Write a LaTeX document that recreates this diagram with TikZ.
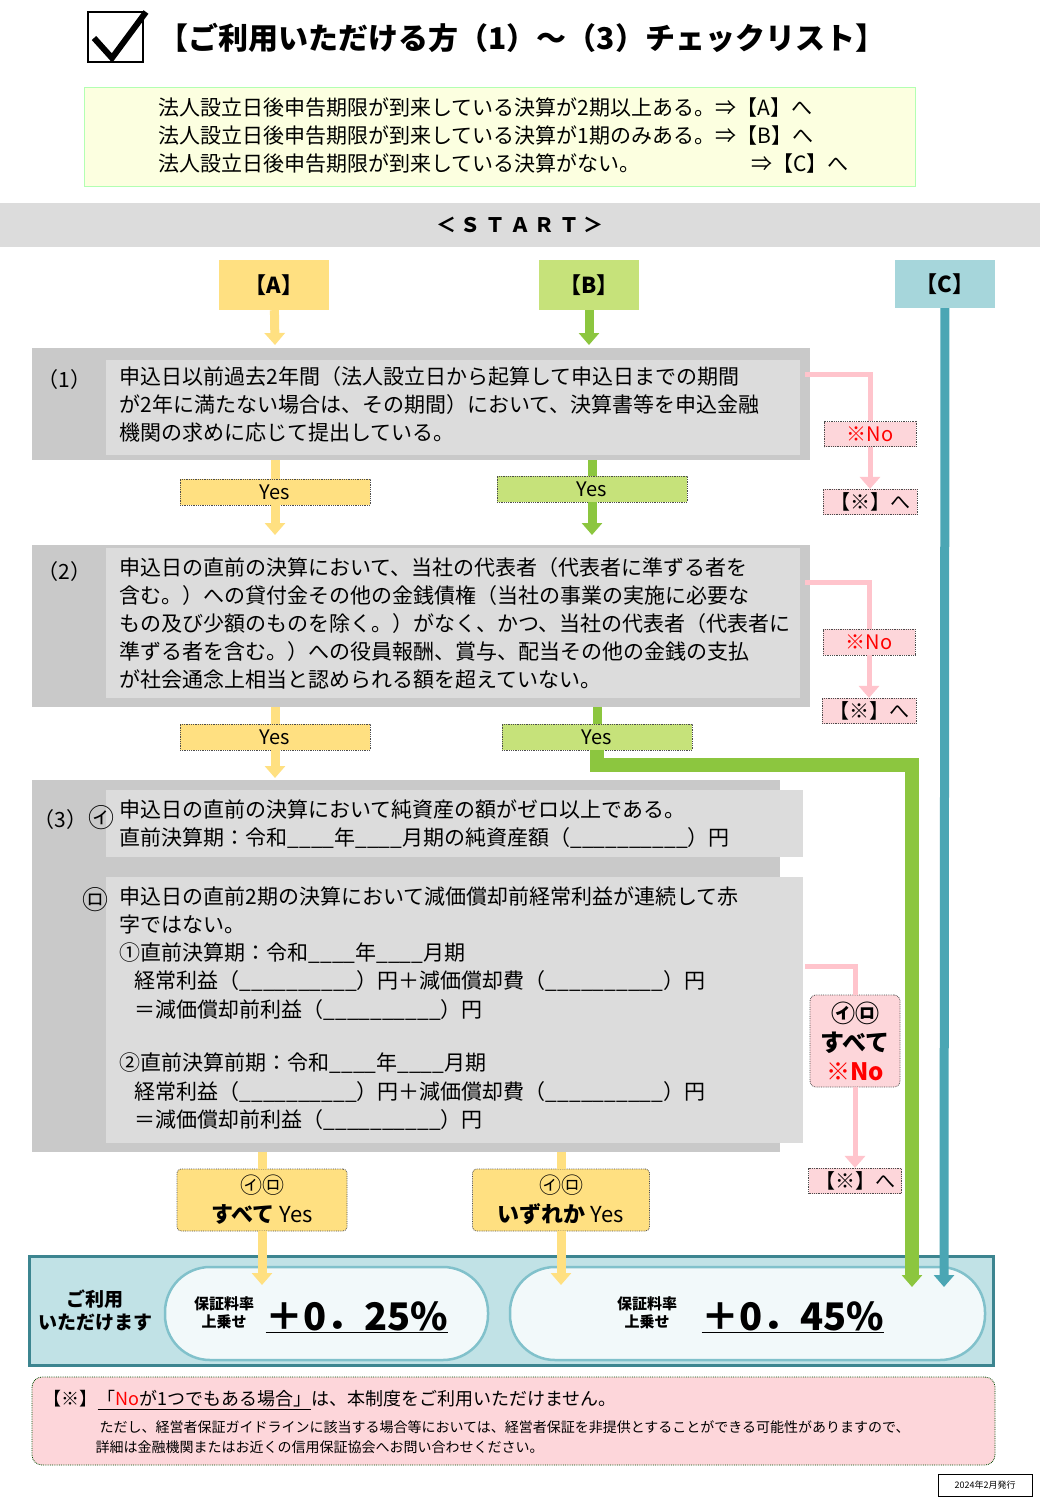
\documentclass[tikz,border=0pt]{standalone}
\usepackage{fontspec}
\setmainfont{Noto Sans CJK JP}
\usetikzlibrary{arrows.meta,calc}
\definecolor{ayel}{HTML}{FFE081}
\definecolor{bgrn}{HTML}{C6E27A}
\definecolor{gline}{HTML}{8CC63F}
\definecolor{cteal}{HTML}{A6D6DB}
\definecolor{tline}{HTML}{4BA6B4}
\definecolor{pnk}{HTML}{FFC4CC}
\definecolor{pnkbg}{HTML}{FDD6DA}
\definecolor{gout}{HTML}{C9C9C9}
\definecolor{gin}{HTML}{DCDCDC}
\tikzset{
  body/.style={anchor=west,font=\fontsize{21}{22}\selectfont},
  yesbox/.style={draw=black!70,densely dotted,thick,font=\fontsize{20}{21}\selectfont},
  nobox/.style={draw=black!70,densely dotted,thick,fill=pnkbg,font=\fontsize{20}{21}\selectfont},
  flow/.style={line width=9pt,-{Triangle[width=20pt,length=12pt]}},
}
\begin{document}
\begin{tikzpicture}[x=1pt,y=-1pt]
	\useasboundingbox (0,0) rectangle (1040,1499);
	\fill[white] (0,0) rectangle (1040,1499);

	% title
	\draw[line width=2.5pt] (88,12) rectangle (143,62);
	\draw[line width=6pt] (94,38) -- (112,58) -- (146,12);
	\node[anchor=west,font=\fontsize{30}{32}\selectfont\bfseries] (title) at (155,38) {【ご利用いただける方（1）～（3）チェックリスト】};

	% intro box
	\fill[green!10!yellow!12,draw=green!30] (84,87) rectangle (915,186);
	\node[body,anchor=west] (la) at (155,108) {法人設立日後申告期限が到来している決算が2期以上ある。⇒【A】へ};
	\node[body,anchor=west] (lb) at (155,136) {法人設立日後申告期限が到来している決算が1期のみある。⇒【B】へ};
	\node[body,anchor=west] (lc) at (155,164) {法人設立日後申告期限が到来している決算がない。};
	\node[body,anchor=west] (lc2) at (748,164) {⇒【C】へ};

	% start
	\fill[gin] (0,203) rectangle (1040,247);
	\node[font=\fontsize{20}{20}\selectfont\bfseries] (start) at (520,225) {＜ Ｓ Ｔ Ａ Ｒ Ｔ ＞};

	\node[fill=ayel,minimum width=110pt,minimum height=50pt,font=\fontsize{22}{22}\selectfont\bfseries] (A) at (274,285) {【A】};
	\node[fill=bgrn,minimum width=100pt,minimum height=50pt,font=\fontsize{22}{22}\selectfont\bfseries] (B) at (589,285) {【B】};
	\node[fill=cteal,minimum width=100pt,minimum height=48pt,font=\fontsize{22}{22}\selectfont\bfseries] (C) at (945,284) {【C】};

	% step (1)
	\fill[gout] (32,348) rectangle (810,460);
	\fill[gin] (106,360) rectangle (800,455);
	\node[body] (n1) at (34,380) {（1）};
	\node[body] at (116,377) {申込日以前過去2年間（法人設立日から起算して申込日までの期間};
	\node[body] at (116,405) {が2年に満たない場合は、その期間）において、決算書等を申込金融};
	\node[body] at (116,433) {機関の求めに応じて提出している。};
	\node[yesbox,fill=ayel,minimum width=190pt,minimum height=26pt] (y1a) at (275,492) {Yes};
	\node[yesbox,fill=bgrn,minimum width=190pt,minimum height=26pt] (y1b) at (592,489) {Yes};
	\node[nobox,text=red,minimum width=92pt,minimum height=25pt] (no1) at (870,434) {※No};
	\node[nobox,minimum width=94pt,minimum height=23pt] (to1) at (870,502) {【※】へ};

	% step (2)
	\fill[gout] (32,545) rectangle (810,707);
	\fill[gin] (106,548) rectangle (800,698);
	\node[body] (n2) at (34,572) {（2）};
	\node[body] at (116,568) {申込日の直前の決算において、当社の代表者（代表者に準ずる者を};
	\node[body] at (116,596) {含む。）への貸付金その他の金銭債権（当社の事業の実施に必要な};
	\node[body] at (116,624) {もの及び少額のものを除く。）がなく、かつ、当社の代表者（代表者に};
	\node[body] at (116,652) {準ずる者を含む。）への役員報酬、賞与、配当その他の金銭の支払};
	\node[body] at (116,679) {が社会通念上相当と認められる額を超えていない。};
	\node[yesbox,fill=ayel,minimum width=190pt,minimum height=26pt] (y2a) at (275,737) {Yes};
	\node[yesbox,fill=bgrn,minimum width=190pt,minimum height=26pt] (y2b) at (597,737) {Yes};
	\node[nobox,text=red,minimum width=92pt,minimum height=26pt] (no2) at (869,642) {※No};
	\node[nobox,minimum width=94pt,minimum height=22pt] (to2) at (869,711) {【※】へ};

	% step (3)
	\fill[gout] (32,780) rectangle (780,1152);
	\fill[gin] (106,790) rectangle (803,857);
	\fill[gin] (106,877) rectangle (803,1143);
	\node[body] (n3) at (30,820) {（3）};
	\node[anchor=west,font=\fontsize{26}{26}\selectfont,inner sep=0pt] at (88,818) {㋑};
	\node[anchor=west,font=\fontsize{26}{26}\selectfont,inner sep=0pt] at (82,900) {㋺};
	\node[body] at (116,809) {申込日の直前の決算において純資産の額がゼロ以上である。};
	\node[body] at (116,838) {直前決算期：令和\_\_\_\_年\_\_\_\_月期の純資産額（\_\_\_\_\_\_\_\_\_\_）円};
	\node[body] at (116,897) {申込日の直前2期の決算において減価償却前経常利益が連続して赤};
	\node[body] at (116,924) {字ではない。};
	\node[body] at (116,953) {①直前決算期：令和\_\_\_\_年\_\_\_\_月期};
	\node[body] at (131,981) {経常利益（\_\_\_\_\_\_\_\_\_\_）円＋減価償却費（\_\_\_\_\_\_\_\_\_\_）円};
	\node[body] at (131,1010) {＝減価償却前利益（\_\_\_\_\_\_\_\_\_\_）円};
	\node[body] at (116,1063) {②直前決算前期：令和\_\_\_\_年\_\_\_\_月期};
	\node[body] at (131,1092) {経常利益（\_\_\_\_\_\_\_\_\_\_）円＋減価償却費（\_\_\_\_\_\_\_\_\_\_）円};
	\node[body] at (131,1120) {＝減価償却前利益（\_\_\_\_\_\_\_\_\_\_）円};
	\node[yesbox,fill=ayel,minimum width=170pt,minimum height=62pt,align=center,rounded corners=4pt,font=\fontsize{22}{29}\selectfont] (y3a) at (262,1200) {㋑㋺\\\textbf{すべて} Yes};
	\node[yesbox,fill=ayel,minimum width=177pt,minimum height=62pt,align=center,rounded corners=4pt,font=\fontsize{22}{29}\selectfont] (y3b) at (561,1200) {㋑㋺\\\textbf{いずれか} Yes};
	\node[nobox,minimum width=90pt,minimum height=92pt,align=center,rounded corners=6pt,font=\fontsize{24}{29}\selectfont\bfseries] (no3) at (855,1041) {㋑㋺\\すべて\\\textcolor{red}{※No}};
	\node[nobox,minimum width=93pt,minimum height=22pt] (to3) at (855,1181) {【※】へ};

	% result band
	\fill[cteal!70,draw=tline!80!black,line width=3pt] (29,1256) rectangle (993,1365);
	\node[align=center,font=\fontsize{19}{23}\selectfont\bfseries] (ok) at (95,1310) {ご利用\\いただけます};
	\draw[fill=white!85!cteal,draw=tline!70,line width=2.5pt,rounded corners=45pt] (165,1267) rectangle (488,1360);
	\draw[fill=white!85!cteal,draw=tline!70,line width=2.5pt,rounded corners=45pt] (510,1267) rectangle (985,1360);
	\node[align=center,font=\fontsize{15}{18}\selectfont\bfseries] (ra) at (224,1313) {保証料率\\上乗せ};
	\node[font=\fontsize{38}{40}\selectfont\bfseries,anchor=west] (pa) at (262,1317) {\underline{＋0．25\%}};
	\node[align=center,font=\fontsize{15}{18}\selectfont\bfseries] (rb) at (647,1313) {保証料率\\上乗せ};
	\node[font=\fontsize{38}{40}\selectfont\bfseries,anchor=west] (pb) at (698,1317) {\underline{＋0．45\%}};

	% connectors
	\draw[flow,ayel] (A) -- (275,345);
	\draw[flow,gline] (B) -- (589,345);
	\draw[flow,tline] (C) -- (944,1287);
	\draw[line width=9pt,ayel] (275,460) -- (y1a);
	\draw[flow,ayel] (y1a) -- (275,535);
	\draw[line width=9pt,gline] (592,460) -- (y1b);
	\draw[flow,gline] (y1b) -- (592,535);
	\draw[line width=9pt,ayel] (275,707) -- (y2a);
	\draw[flow,ayel] (y2a) -- (275,778);
	\draw[line width=9pt,gline] (597,707) -- (y2b);
	\draw[flow,gline,line width=14pt] (y2b.south) |- (912,765) -- (912,1287);
	\draw[line width=9pt,ayel] (262,1152) -- (y3a);
	\draw[flow,ayel] (y3a) -- (262,1285);
	\draw[line width=9pt,ayel] (561,1152) -- (y3b);
	\draw[flow,ayel] (y3b) -- (561,1285);
	\draw[pnk,line width=5pt] (805,374) -| (no1);
	\draw[flow,pnk,line width=5pt] (no1) -- (to1);
	\draw[pnk,line width=5pt] (805,582) -| (no2);
	\draw[flow,pnk,line width=5pt] (no2) -- (to2);
	\draw[pnk,line width=5pt] (805,966) -| (no3);
	\draw[flow,pnk,line width=5pt] (no3) -- (to3);

	% note
	\draw[fill=pnkbg,draw=black!70!green,densely dotted,thick,rounded corners=10pt] (32,1377) rectangle (995,1465);
	\node[anchor=west,font=\fontsize{18}{18}\selectfont] (nt) at (40,1400) {【※】\underline{「\textcolor{red}{No}が1つでもある場合」}は、本制度をご利用いただけません。};
	\node[anchor=west,font=\fontsize{14}{15}\selectfont] (nt2) at (96,1427) {ただし、経営者保証ガイドラインに該当する場合等においては、経営者保証を非提供とすることができる可能性がありますので、};
	\node[anchor=west,font=\fontsize{14}{15}\selectfont] (nt3) at (92,1447) {詳細は金融機関またはお近くの信用保証協会へお問い合わせください。};
	\node[draw,thick,minimum width=94pt,minimum height=22pt,font=\fontsize{9}{10}\selectfont] (date) at (985,1485) {2024年2月発行};
\end{tikzpicture}
\end{document}
